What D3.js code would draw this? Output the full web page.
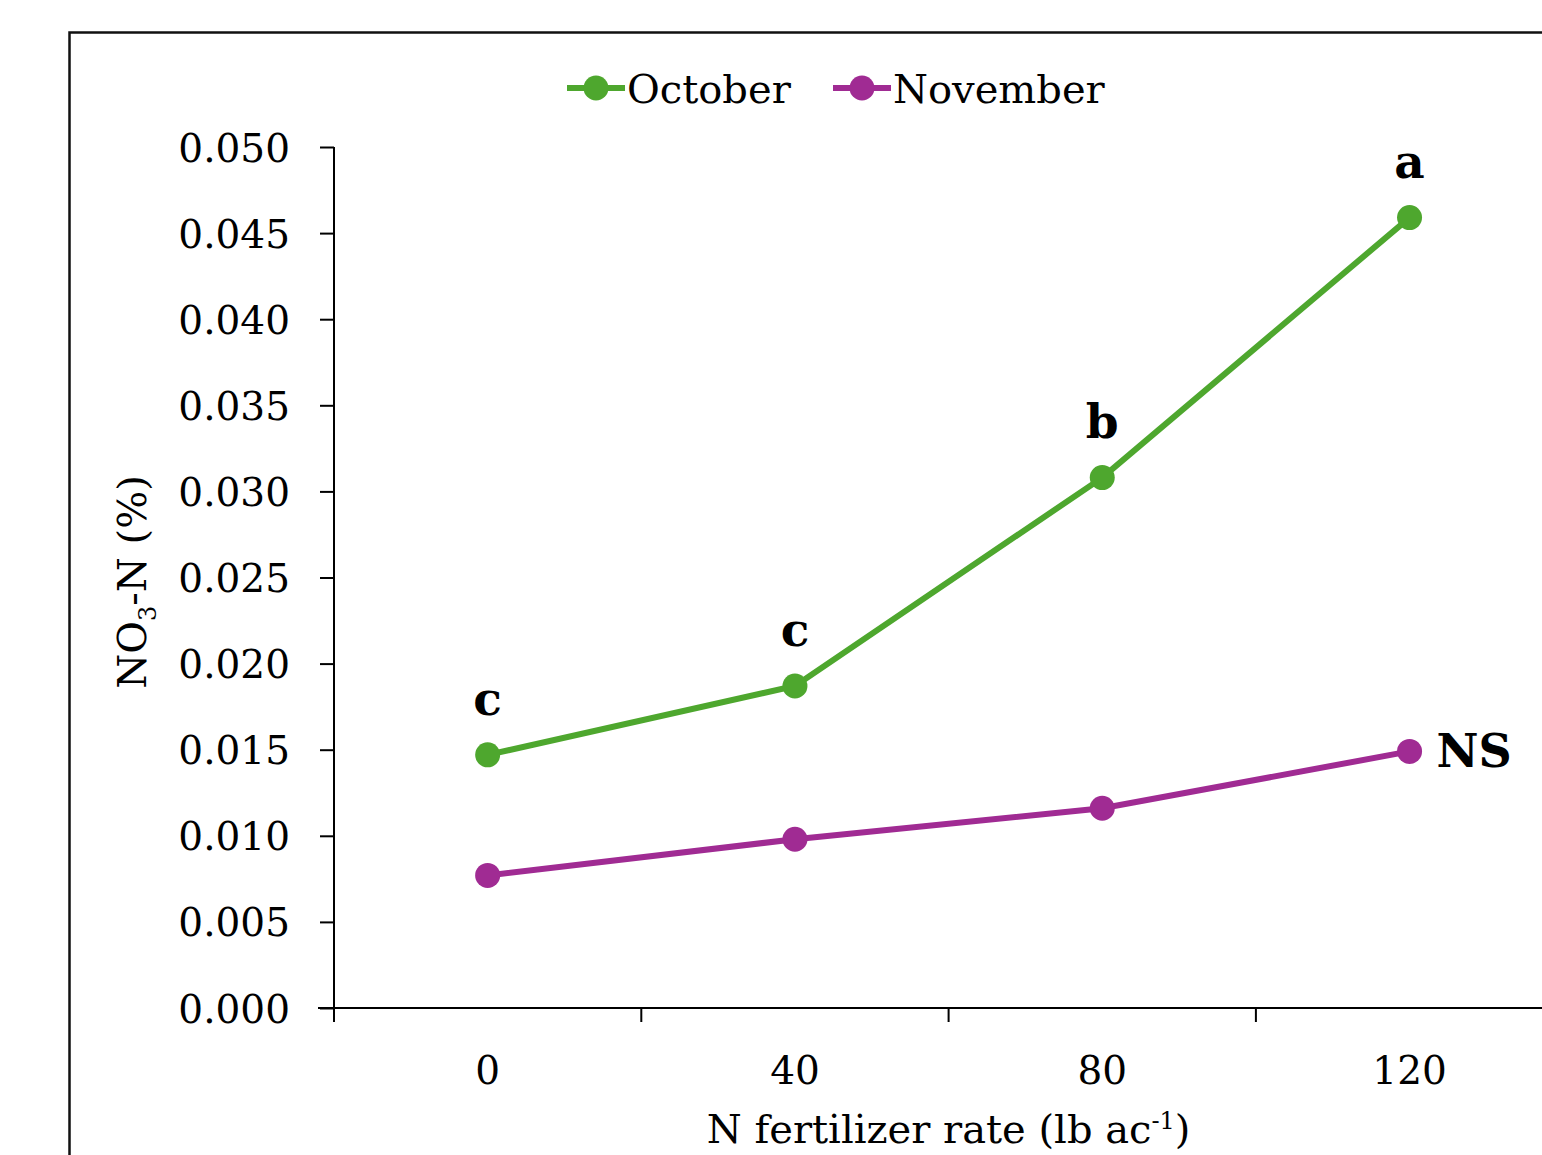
<!DOCTYPE html>
<html>
<head>
<meta charset="utf-8">
<script src="https://cdn.jsdelivr.net/npm/d3@7"></script>
<style>
  body { margin: 0; background: #fff; }
  text { font-family: "DejaVu Serif", serif; fill: #000; }
</style>
</head>
<body>
<div id="my_dataviz"></div>
<script>
// data
var rates = ["0", "40", "80", "120"];
var october = [0.0147, 0.0187, 0.0308, 0.0459];
var november = [0.0077, 0.0098, 0.0116, 0.0149];
var octLetters = ["c", "c", "b", "a"];
var novLetters = ["", "", "", "NS"];
var yTicks = [0, 0.005, 0.010, 0.015, 0.020, 0.025, 0.030, 0.035, 0.040, 0.045, 0.050];

var W = 1542, H = 1155;
var plot = {left: 334, top: 147, bottom: 1008, right: 334 + 4 * 307.3};

var svg = d3.select("#my_dataviz")
  .append("svg")
  .attr("width", W)
  .attr("height", H);

// chart frame (cut off at right and bottom like the original)
svg.append("rect")
  .attr("x", 69.5).attr("y", 32.5)
  .attr("width", 1600).attr("height", 1300)
  .attr("fill", "none")
  .attr("stroke", "#111")
  .attr("stroke-width", 2.5);

var x = d3.scaleBand()
  .domain(rates)
  .range([plot.left, plot.right])
  .padding(0);

var y = d3.scaleLinear()
  .domain([0, 0.05])
  .range([plot.bottom, plot.top]);

// Y axis
var yAxis = svg.append("g")
  .attr("transform", "translate(" + plot.left + ",0)")
  .call(d3.axisLeft(y).tickValues(yTicks).tickSize(14).tickPadding(30).tickFormat(d3.format(".3f")));
yAxis.select(".domain").remove();
yAxis.selectAll("line").attr("stroke", "#000").attr("stroke-width", 2);
yAxis.selectAll("text").style("font-size", "39px").attr("font-family", null).attr("dy", "0.36em");
svg.append("line")
  .attr("x1", plot.left).attr("x2", plot.left)
  .attr("y1", plot.top).attr("y2", plot.bottom + 14)
  .attr("stroke", "#000").attr("stroke-width", 2);

// X axis (category labels centred in bands, ticks between bands)
var xAxis = svg.append("g")
  .attr("transform", "translate(0," + plot.bottom + ")")
  .call(d3.axisBottom(x).tickSize(0).tickPadding(48));
xAxis.select(".domain").remove();
xAxis.selectAll("text").style("font-size", "39px").attr("font-family", null);
svg.append("line")
  .attr("x1", plot.left - 16).attr("x2", W)
  .attr("y1", plot.bottom).attr("y2", plot.bottom)
  .attr("stroke", "#000").attr("stroke-width", 2);
svg.selectAll("xTicks")
  .data(rates)
  .enter()
  .append("line")
  .attr("x1", function(d) { return x(d); })
  .attr("x2", function(d) { return x(d); })
  .attr("y1", plot.bottom).attr("y2", plot.bottom + 14)
  .attr("stroke", "#000").attr("stroke-width", 2);

// axis titles
var xt = svg.append("text")
  .attr("x", (plot.left + plot.right) / 2)
  .attr("y", 1143)
  .attr("text-anchor", "middle")
  .style("font-size", "40px");
xt.append("tspan").text("N fertilizer rate (lb ac");
xt.append("tspan").attr("dy", "-14").style("font-size", "24px").text("-1");
xt.append("tspan").attr("dy", "14").text(")");

var yt = svg.append("text")
  .attr("transform", "translate(146,582) rotate(-90)")
  .attr("text-anchor", "middle")
  .style("font-size", "40px");
yt.append("tspan").text("NO");
yt.append("tspan").attr("dy", "10").style("font-size", "24px").text("3");
yt.append("tspan").attr("dy", "-10").text("-N (%)");

// series
var series = [
  {name: "October", values: october, color: "#4EA72E", letters: octLetters},
  {name: "November", values: november, color: "#A02B93", letters: novLetters}
];

var line = d3.line()
  .x(function(d, i) { return x(rates[i]) + x.bandwidth() / 2; })
  .y(function(d) { return y(d); });

svg.selectAll("myLines")
  .data(series)
  .enter()
  .append("path")
  .attr("d", function(d) { return line(d.values); })
  .attr("stroke", function(d) { return d.color; })
  .style("stroke-width", 6)
  .style("fill", "none");

svg.selectAll("myDots")
  .data(series)
  .enter()
  .append("g")
  .style("fill", function(d) { return d.color; })
  .selectAll("myPoints")
  .data(function(d) { return d.values; })
  .enter()
  .append("circle")
  .attr("cx", function(d, i) { return x(rates[i]) + x.bandwidth() / 2; })
  .attr("cy", function(d) { return y(d); })
  .attr("r", 12.5);

// significance letters
svg.selectAll("octLabels")
  .data(october)
  .enter()
  .append("text")
  .attr("x", function(d, i) { return x(rates[i]) + x.bandwidth() / 2; })
  .attr("y", function(d) { return y(d) - 40; })
  .attr("text-anchor", "middle")
  .style("font-size", "47px")
  .style("font-weight", "bold")
  .text(function(d, i) { return octLetters[i]; });

svg.selectAll("novLabels")
  .data(november)
  .enter()
  .append("text")
  .attr("x", function(d, i) { return x(rates[i]) + x.bandwidth() / 2 + 27; })
  .attr("y", function(d) { return y(d) + 16; })
  .style("font-size", "46px")
  .style("font-weight", "bold")
  .text(function(d, i) { return novLetters[i]; });

// legend
var legend = svg.selectAll("myLegend")
  .data(series)
  .enter()
  .append("g")
  .attr("transform", function(d, i) { return "translate(" + (i === 0 ? 567 : 833) + ",88)"; });
legend.append("line")
  .attr("x1", 0).attr("x2", 58)
  .attr("stroke", function(d) { return d.color; })
  .attr("stroke-width", 6);
legend.append("circle")
  .attr("cx", 29).attr("r", 12.5)
  .attr("fill", function(d) { return d.color; });
legend.append("text")
  .attr("x", 60).attr("y", 15)
  .style("font-size", "40px")
  .text(function(d) { return d.name; });
</script>
</body>
</html>
